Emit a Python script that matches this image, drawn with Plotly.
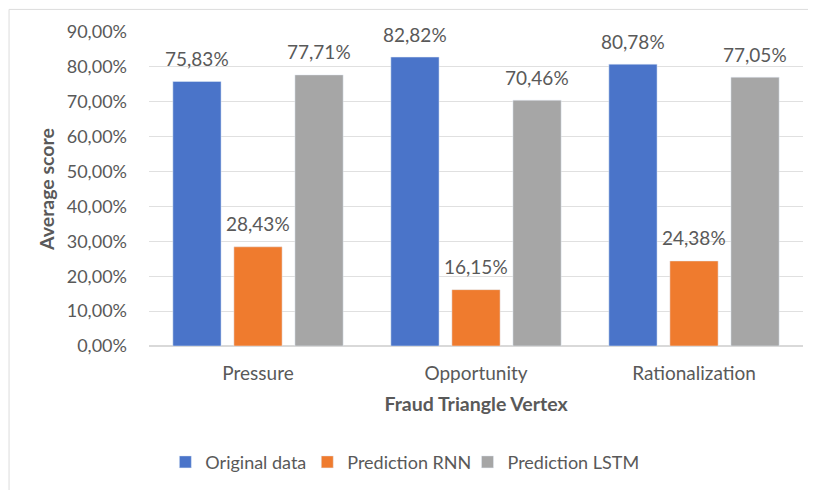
import plotly.graph_objects as go

# dane z wykresu
kategorie = ['Pressure', 'Opportunity', 'Rationalization']
original = [0.7583, 0.8282, 0.8078]
rnn = [0.2843, 0.1615, 0.2438]
lstm = [0.7771, 0.7046, 0.7705]

serie = [
    ('Original data', original, '#4a74c9'),
    ('Prediction RNN', rnn, '#ef7b2e'),
    ('Prediction LSTM', lstm, '#a6a6a6'),
]

szary = '#595959'
czcionka = 'Lato, Carlito, Calibri, sans-serif'

# każda seria ma własną legendę, żeby ustawić odstępy jak w oryginale
legendy = ['legend', 'legend2', 'legend3']
pozycje_legend = [0.025, 0.242, 0.487]

fig = go.Figure()
for (nazwa, wartosci, kolor), leg in zip(serie, legendy):
    fig.add_trace(go.Bar(
        x=kategorie,
        y=wartosci,
        name=nazwa,
        marker=dict(color=kolor),
        legend=leg,
    ))

# etykiety wartości nad słupkami
przesuniecia = [-61, 0, 61]
for (nazwa, wartosci, kolor), dx in zip(serie, przesuniecia):
    for k, v in zip(kategorie, wartosci):
        fig.add_annotation(
            x=k, y=v, xref='x', yref='y',
            text=f'{v*100:.2f}%'.replace('.', ','),
            showarrow=False,
            xshift=dx, yshift=23,
            yanchor='middle',
            font=dict(size=19, color=szary),
        )

# ramka wokół wykresu
fig.add_shape(type='line', xref='paper', yref='paper',
              x0=-0.214, x1=1.1, y0=1.072, y1=1.072,
              line=dict(color='#dcdcdc', width=1))
fig.add_shape(type='line', xref='paper', yref='paper',
              x0=-0.214, x1=-0.214, y0=1.072, y1=-0.5,
              line=dict(color='#dcdcdc', width=1))

styl_legendy = dict(
    orientation='h',
    y=-0.37, yanchor='middle',
    xanchor='left',
    font=dict(size=18, color=szary),
    itemwidth=30,
    bgcolor='rgba(0,0,0,0)',
)

fig.update_layout(
    width=816,
    height=490,
    margin=dict(l=141, r=21, t=24, b=152),
    plot_bgcolor='white',
    paper_bgcolor='white',
    separators=',.',
    font=dict(family=czcionka, color=szary, size=19),
    barmode='group',
    bargap=0.16,
    bargroupgap=0.21,
    legend=dict(x=pozycje_legend[0], **styl_legendy),
    legend2=dict(x=pozycje_legend[1], **styl_legendy),
    legend3=dict(x=pozycje_legend[2], **styl_legendy),
    showlegend=True,
)

fig.update_xaxes(
    title=dict(text='<b>Fraud Triangle Vertex</b>', font=dict(size=19.5, color=szary), standoff=14),
    tickfont=dict(size=19, color=szary),
    showline=True,
    linecolor='#d9d9d9',
    ticks='',
    ticklabelstandoff=10,
    automargin=False,
)

fig.update_yaxes(
    title=dict(text='<b>Average score</b>', font=dict(size=19.5, color=szary), standoff=6),
    range=[0, 0.9],
    dtick=0.1,
    tickformat='.2%',
    tickfont=dict(size=18, color=szary),
    showgrid=True,
    gridcolor='#e0e0e0',
    gridwidth=1,
    zeroline=True,
    zerolinecolor='#d9d9d9',
    ticks='',
    ticklabelstandoff=21,
    automargin=False,
)

fig.write_html('out.html')
